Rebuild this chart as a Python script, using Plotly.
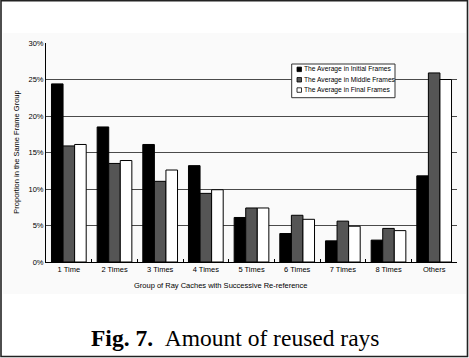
import plotly.graph_objects as go

categories = ["1 Time", "2 Times", "3 Times", "4 Times", "5 Times",
              "6 Times", "7 Times", "8 Times", "Others"]
series_names = ["The Average in Initial Frames",
                "The Average in Middle Frames",
                "The Average in Final Frames"]
initial_vals = [24.4, 18.5, 16.1, 13.2, 6.1, 3.9, 2.9, 3.0, 11.8]
middle_vals = [15.9, 13.5, 11.05, 9.4, 7.4, 6.4, 5.6, 4.6, 25.9]
final_vals = [16.1, 13.9, 12.6, 9.9, 7.4, 5.85, 4.9, 4.3, 25.0]
y_ticks = [0, 5, 10, 15, 20, 25, 30]
y_tick_text = ["0%", "5%", "10%", "15%", "20%", "25%", "30%"]

colors = ["#000000", "#555555", "#ffffff"]
series = [initial_vals, middle_vals, final_vals]

W, H = 469, 358
L, R, T, B = 46, 457, 43, 262  # plot area in px
pw, ph = R - L, B - T


def px(x):
    return (x - L) / pw


def py(y):
    return (B - y) / ph


fig = go.Figure()
for name, vals, c in zip(series_names, series, colors):
    fig.add_trace(go.Bar(
        x=categories, y=vals, name=name,
        marker=dict(color=c, line=dict(color="#000000", width=1)),
        showlegend=False,
    ))

font_sans = "Liberation Sans, Arial, sans-serif"

shapes = [
    # light chart background
    dict(type="rect", xref="paper", yref="paper", layer="below",
         x0=px(3), x1=px(466), y0=py(294), y1=py(33),
         fillcolor="#fafafa", line=dict(width=0)),
    # outer frame
    dict(type="rect", xref="paper", yref="paper",
         x0=px(1), x1=px(467.5), y0=py(356.5), y1=py(0.8),
         fillcolor="rgba(0,0,0,0)", line=dict(color="#222222", width=1.6)),
    # legend box
    dict(type="rect", xref="paper", yref="paper",
         x0=px(291.7), x1=px(395), y0=py(97.7), y1=py(64),
         fillcolor="#ffffff", line=dict(color="#333333", width=1)),
]
annotations = []
row_y = [69.3, 79.7, 90.0]
for name, c, ry in zip(series_names, colors, row_y):
    shapes.append(dict(type="rect", xref="paper", yref="paper",
                       x0=px(297), x1=px(301.5), y0=py(ry + 2.3), y1=py(ry - 2.2),
                       fillcolor=c, line=dict(color="#000000", width=0.8)))
    annotations.append(dict(text=name, xref="paper", yref="paper",
                            x=px(302.3), y=py(ry), xanchor="left", yanchor="middle",
                            showarrow=False,
                            font=dict(family=font_sans, size=6.7, color="#000000")))

annotations.append(dict(text="Group of Ray Caches with Successive Re-reference",
                        xref="paper", yref="paper", x=px(220), y=py(285.5),
                        xanchor="center", yanchor="middle", showarrow=False,
                        font=dict(family=font_sans, size=7.5, color="#000000")))
annotations.append(dict(text="Proportion in the Same Frame Group",
                        xref="paper", yref="paper", x=px(15.7), y=py(152),
                        xanchor="center", yanchor="middle", showarrow=False,
                        textangle=-90,
                        font=dict(family=font_sans, size=7.5, color="#000000")))
annotations.append(dict(text="<b>Fig. 7.</b>&nbsp;&nbsp;Amount of reused rays",
                        xref="paper", yref="paper", x=px(235), y=py(337.5),
                        xanchor="center", yanchor="middle", showarrow=False,
                        font=dict(family="Liberation Serif, Times New Roman, serif",
                                  size=23.5, color="#000000")))

fig.update_layout(
    width=W, height=H,
    margin=dict(l=L, r=W - R, t=T, b=H - B, autoexpand=False),
    paper_bgcolor="#ffffff", plot_bgcolor="rgba(0,0,0,0)",
    barmode="group", bargap=0.24, bargroupgap=0,
    shapes=shapes, annotations=annotations,
    font=dict(family=font_sans, size=7.5, color="#000000"),
)
fig.update_xaxes(
    type="category", showline=True, linecolor="#000000", linewidth=1,
    tickson="boundaries", ticks="inside", ticklen=3, tickcolor="#000000",
    showgrid=False, tickfont=dict(size=7.5), fixedrange=True,
)
fig.update_yaxes(
    range=[0, 30], tickvals=y_ticks, ticktext=y_tick_text,
    showline=True, linecolor="#000000", linewidth=1,
    showgrid=True, gridcolor="#4a4a4a", gridwidth=1,
    zeroline=False, ticks="", tickfont=dict(size=7.5), fixedrange=True,
)

fig.write_html(
    "out.html",
    config={"displayModeBar": False},
    post_script="document.body.style.margin='0';document.body.style.overflow='hidden';",
)
